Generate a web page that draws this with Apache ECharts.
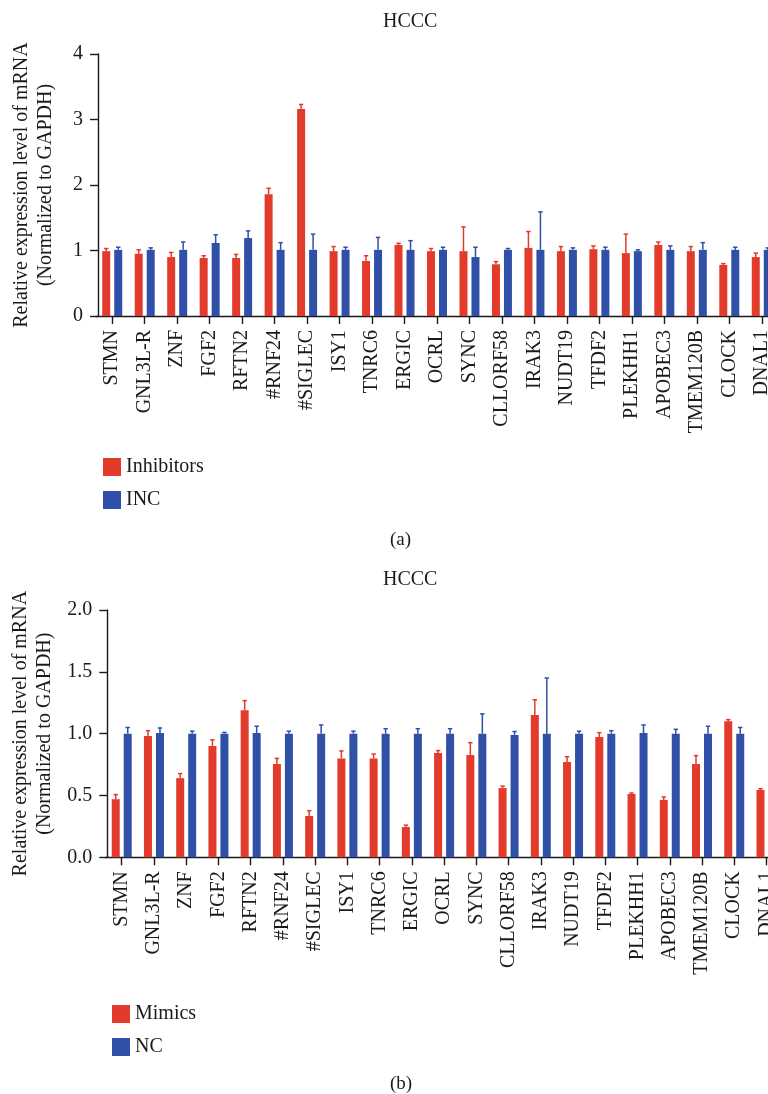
<!DOCTYPE html>
<html>
<head>
<meta charset="utf-8">
<script src="https://cdn.jsdelivr.net/npm/echarts@6/dist/echarts.min.js"></script>
<style>
html,body{margin:0;padding:0;background:#fff;overflow:hidden;width:768px;height:1094px;}
#chart{width:800px;height:1094px;}
</style>
</head>
<body>
<div id="chart"></div>
<script>
var categories = ['STMN','GNL3L-R','ZNF','FGF2','RFTN2','#RNF24','#SIGLEC','ISY1','TNRC6','ERGIC','OCRL','SYNC','CLLORF58','IRAK3','NUDT19','TFDF2','PLEKHH1','APOBEC3','TMEM120B','CLOCK','DNAL1'];

var inhibitors    = [0.99,0.95,0.90,0.885,0.885,1.86,3.16,0.99,0.84,1.085,0.99,0.99,0.79,1.04,0.99,1.02,0.96,1.085,0.99,0.78,0.90];
var inhibitorsErr = [0.04,0.06,0.07,0.035,0.055,0.09,0.07,0.07,0.08,0.025,0.04,0.37,0.04,0.25,0.07,0.05,0.29,0.045,0.07,0.02,0.06];
var inc           = [1.01,1.01,1.01,1.115,1.19,1.01,1.01,1.01,1.01,1.01,1.01,0.90,1.01,1.01,1.01,1.01,0.99,1.01,1.01,1.01,1.01];
var incErr        = [0.04,0.03,0.12,0.125,0.11,0.11,0.24,0.04,0.19,0.14,0.04,0.15,0.02,0.58,0.03,0.04,0.02,0.06,0.11,0.04,0.03];

var mimics    = [0.47,0.98,0.64,0.90,1.19,0.755,0.334,0.80,0.80,0.245,0.844,0.827,0.56,1.15,0.77,0.973,0.512,0.464,0.755,1.10,0.544];
var mimicsErr = [0.037,0.044,0.037,0.05,0.077,0.045,0.043,0.06,0.035,0.015,0.019,0.10,0.016,0.124,0.043,0.035,0.008,0.024,0.067,0.013,0.011];
var nc        = [1.0,1.005,1.0,1.0,1.005,1.0,1.0,1.0,1.0,1.0,1.0,1.0,0.99,1.0,1.0,1.0,1.005,1.0,1.0,1.0,1.0];
var ncErr     = [0.05,0.041,0.02,0.01,0.055,0.02,0.07,0.02,0.04,0.04,0.04,0.16,0.027,0.45,0.02,0.024,0.065,0.035,0.06,0.05,0.03];

var yTicksTop = [0, 1, 2, 3, 4];
var yTicksBottom = ['0.0','0.5','1.0','1.5','2.0'];

var RED = '#e33b2b', BLUE = '#3050a8', INK = '#1a1a1a';
var FONT = '"Liberation Serif", "DejaVu Serif", serif';

function errData(vals, errs){
  return vals.map(function(v,i){ return [i, v, errs[i]]; });
}
function errRender(offset, color){
  return function(params, api){
    var i = api.value(0), v = api.value(1), e = api.value(2);
    var p0 = api.coord([i, v]);
    var p1 = api.coord([i, v + e]);
    var cx = p0[0] + offset;
    var st = {stroke: color, lineWidth: 1.5};
    return {type:'group', children:[
      {type:'line', shape:{x1:cx, y1:p0[1], x2:cx, y2:p1[1]}, style:st},
      {type:'line', shape:{x1:cx-2.2, y1:p1[1], x2:cx+2.2, y2:p1[1]}, style:st}
    ]};
  };
}

function xAxisCfg(gi){
  return {
    type:'category', gridIndex:gi, data:categories,
    axisLine:{show:true, lineStyle:{color:INK, width:1.4}},
    axisTick:{show:true, alignWithLabel:true, length:8, lineStyle:{color:INK, width:1.4}},
    axisLabel:{interval:0, rotate:90, margin:14, fontFamily:FONT, fontSize:20, color:INK},
    splitLine:{show:false}
  };
}
function nameStyle(){
  return {fontFamily:FONT, fontSize:20, color:INK, lineHeight:24};
}

var chart = echarts.init(document.getElementById('chart'), null, {renderer:'canvas'});
chart.setOption({
  animation:false,
  backgroundColor:'#fff',
  title:[
    {text:'HCCC', left:378, top:7, textStyle:{fontFamily:FONT, fontSize:20, fontWeight:'normal', color:INK}},
    {text:'HCCC', left:378, top:565, textStyle:{fontFamily:FONT, fontSize:20, fontWeight:'normal', color:INK}},
    {text:'(a)', left:385, top:526, textStyle:{fontFamily:FONT, fontSize:19, fontWeight:'normal', color:INK}},
    {text:'(b)', left:385, top:1070, textStyle:{fontFamily:FONT, fontSize:19, fontWeight:'normal', color:INK}}
  ],
  legend:[
    {data:['Inhibitors','INC'], orient:'vertical', left:98, top:452, itemWidth:18, itemHeight:18, itemGap:13, icon:'rect',
     textStyle:{fontFamily:FONT, fontSize:20, color:INK}},
    {data:['Mimics','NC'], orient:'vertical', left:107, top:999, itemWidth:18, itemHeight:18, itemGap:13, icon:'rect',
     textStyle:{fontFamily:FONT, fontSize:20, color:INK}}
  ],
  grid:[
    {left:96, top:54, width:682, height:262},
    {left:105.6, top:610, width:677, height:247.3}
  ],
  xAxis:[xAxisCfg(0), xAxisCfg(1)],
  yAxis:[
    {type:'value', gridIndex:0, min:0, max:4, interval:1, offset:-2,
     name:'Relative expression level of mRNA\n(Normalized to GAPDH)', nameLocation:'middle', nameGap:40, nameTextStyle:nameStyle(),
     axisLine:{show:true, lineStyle:{color:INK, width:1.4}},
     axisTick:{show:true, length:8, lineStyle:{color:INK, width:1.4}},
     axisLabel:{margin:15, fontFamily:FONT, fontSize:20, color:INK, formatter:function(v){ return String(yTicksTop[Math.round(v)]); }},
     splitLine:{show:false}},
    {type:'value', gridIndex:1, min:0, max:2, interval:0.5, offset:-1.7,
     name:'Relative expression level of mRNA\n(Normalized to GAPDH)', nameLocation:'middle', nameGap:50, nameTextStyle:nameStyle(),
     axisLine:{show:true, lineStyle:{color:INK, width:1.4}},
     axisTick:{show:true, length:8, lineStyle:{color:INK, width:1.4}},
     axisLabel:{margin:15, fontFamily:FONT, fontSize:20, color:INK, formatter:function(v){ return yTicksBottom[Math.round(v*2)]; }},
     splitLine:{show:false}}
  ],
  series:[
    {name:'Inhibitors', type:'bar', xAxisIndex:0, yAxisIndex:0, data:inhibitors, barWidth:8, barGap:'50%', itemStyle:{color:RED}},
    {name:'INC', type:'bar', xAxisIndex:0, yAxisIndex:0, data:inc, barWidth:8, barGap:'50%', itemStyle:{color:BLUE}},
    {name:'InhibitorsErr', type:'custom', xAxisIndex:0, yAxisIndex:0, data:errData(inhibitors, inhibitorsErr), renderItem:errRender(-6, RED), encode:{x:0, y:1}, z:3},
    {name:'INCErr', type:'custom', xAxisIndex:0, yAxisIndex:0, data:errData(inc, incErr), renderItem:errRender(6, BLUE), encode:{x:0, y:1}, z:3},
    {name:'Mimics', type:'bar', xAxisIndex:1, yAxisIndex:1, data:mimics, barWidth:8, barGap:'50%', itemStyle:{color:RED}},
    {name:'NC', type:'bar', xAxisIndex:1, yAxisIndex:1, data:nc, barWidth:8, barGap:'50%', itemStyle:{color:BLUE}},
    {name:'MimicsErr', type:'custom', xAxisIndex:1, yAxisIndex:1, data:errData(mimics, mimicsErr), renderItem:errRender(-6, RED), encode:{x:0, y:1}, z:3},
    {name:'NCErr', type:'custom', xAxisIndex:1, yAxisIndex:1, data:errData(nc, ncErr), renderItem:errRender(6, BLUE), encode:{x:0, y:1}, z:3}
  ]
});
</script>
</body>
</html>
